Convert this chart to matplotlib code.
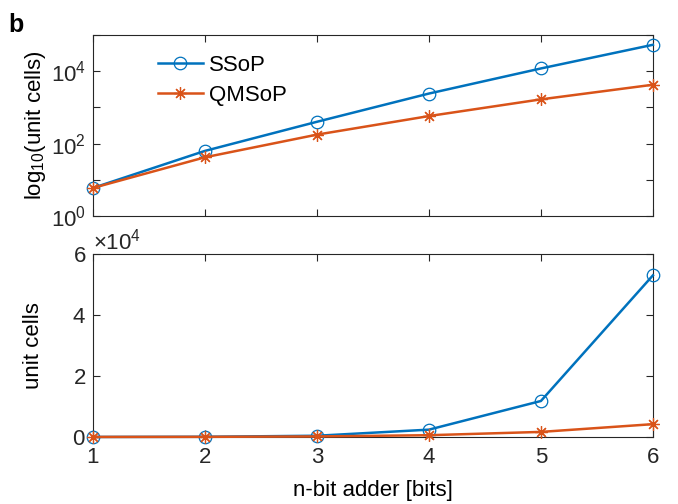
import matplotlib
matplotlib.use("Agg")
import matplotlib.pyplot as plt
from matplotlib.ticker import ScalarFormatter, NullLocator

plt.rcParams['font.family'] = ['Liberation Sans', 'DejaVu Sans']
plt.rcParams['mathtext.fontset'] = 'custom'
plt.rcParams['mathtext.rm'] = 'Liberation Sans'
plt.rcParams['mathtext.it'] = 'Liberation Sans:italic'
plt.rcParams['mathtext.bf'] = 'Liberation Sans:bold'

bits = [1, 2, 3, 4, 5, 6]
ssop = [6, 63, 400, 2400, 11800, 53000]
qmsop = [6, 42, 177, 575, 1660, 4200]
log_ticks = [1, 10, 100, 1000, 10000, 100000]
log_labels = ['$10^0$', '', '$10^2$', '', '$10^4$', '']
lin_ticks = [0, 20000, 40000, 60000]

blue = '#0072BD'
orange = '#D95319'
axcol = '#262626'
fs = 16

fig = plt.figure(figsize=(6.78, 5.04), dpi=100)
ax1 = fig.add_axes([0.137, 0.571, 0.826, 0.360])
ax2 = fig.add_axes([0.137, 0.133, 0.826, 0.363])

for ax in (ax1, ax2):
    ax.plot(bits, ssop, '-o', color=blue, lw=1.8, ms=9, mfc='none', mew=0.9, label='SSoP', clip_on=False, zorder=3)
    ax.plot(bits, qmsop, '-', marker=(8, 2, 0), color=orange, lw=1.8, ms=9, mfc='none', mew=0.9, label='QMSoP', clip_on=False, zorder=3)
    ax.set_xlim(1, 6)
    ax.set_xticks(bits)
    ax.tick_params(direction='in', top=True, right=True, length=5, width=0.8,
                   colors=axcol, labelsize=fs, labelcolor=axcol)
    ax.tick_params(axis='x', pad=7)
    ax.tick_params(axis='y', pad=5)
    for s in ax.spines.values():
        s.set_color(axcol)
        s.set_linewidth(0.8)

ax1.set_yscale('log')
ax1.set_ylim(1, 1e5)
ax1.set_yticks(log_ticks)
ax1.set_yticklabels(log_labels)
ax1.yaxis.set_minor_locator(NullLocator())
ax1.set_xticklabels([])
ax1.set_ylabel('log$_{10}$(unit cells)', fontsize=fs, color='black', labelpad=2)
leg = ax1.legend(loc='upper left', bbox_to_anchor=(0.08, 1.0), frameon=False, fontsize=fs,
                 handlelength=2.05, handletextpad=0.25, labelspacing=0.4)

ax2.set_ylim(0, 60000)
ax2.set_yticks(lin_ticks)
fmt = ScalarFormatter(useMathText=True)
fmt.set_powerlimits((0, 0))
ax2.yaxis.set_major_formatter(fmt)
ax2.yaxis.get_offset_text().set_fontsize(fs)
ax2.yaxis.get_offset_text().set_color(axcol)
ax2.set_ylabel('unit cells', fontsize=fs, color='black', labelpad=20)
ax2.set_xlabel('n-bit adder [bits]', fontsize=fs, color='black', labelpad=9)

fig.text(0.012, 0.975, 'b', fontsize=18, fontweight='bold', va='top', ha='left')

fig.savefig('out.png', dpi=100)
